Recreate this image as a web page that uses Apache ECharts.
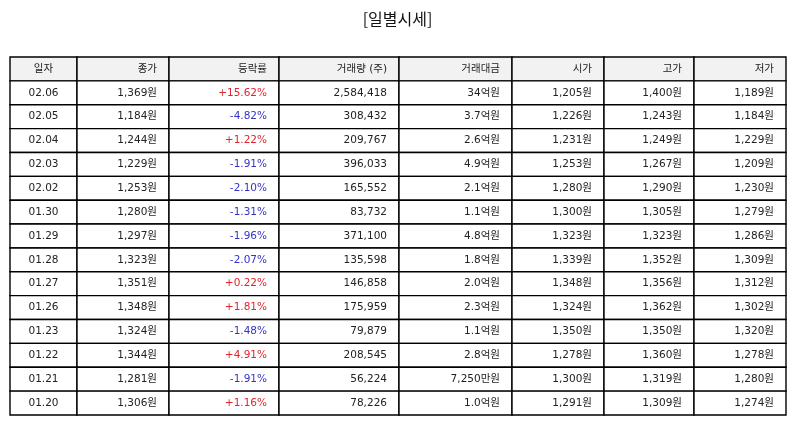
<!DOCTYPE html>
<html>
<head>
<meta charset="utf-8">
<script src="https://cdn.jsdelivr.net/npm/echarts@6/dist/echarts.min.js"></script>
<style>
  html, body { margin: 0; padding: 0; background: #fff; }
  #chart { width: 795px; height: 425px; }
</style>
</head>
<body>
<div id="chart"></div>
<script>
// table data
const headers = ['일자', '종가', '등락률', '거래량 (주)', '거래대금', '시가', '고가', '저가'];
const dates = ['02.06', '02.05', '02.04', '02.03', '02.02', '01.30', '01.29', '01.28', '01.27', '01.26', '01.23', '01.22', '01.21', '01.20'];
const closePrice = [1369, 1184, 1244, 1229, 1253, 1280, 1297, 1323, 1351, 1348, 1324, 1344, 1281, 1306];
const changeRate = [15.62, -4.82, 1.22, -1.91, -2.10, -1.31, -1.96, -2.07, 0.22, 1.81, -1.48, 4.91, -1.91, 1.16];
const volume = [2584418, 308432, 209767, 396033, 165552, 83732, 371100, 135598, 146858, 175959, 79879, 208545, 56224, 78226];
const tradeAmount = ['34억원', '3.7억원', '2.6억원', '4.9억원', '2.1억원', '1.1억원', '4.8억원', '1.8억원', '2.0억원', '2.3억원', '1.1억원', '2.8억원', '7,250만원', '1.0억원'];
const openPrice = [1205, 1226, 1231, 1253, 1280, 1300, 1323, 1339, 1348, 1324, 1350, 1278, 1300, 1291];
const highPrice = [1400, 1243, 1249, 1267, 1290, 1305, 1323, 1352, 1356, 1362, 1350, 1360, 1319, 1309];
const lowPrice = [1189, 1184, 1229, 1209, 1230, 1279, 1286, 1309, 1312, 1302, 1320, 1278, 1280, 1274];

// column boundaries on the x scale
const colEdges = [0, 67, 159, 269, 389, 502, 594, 684, 776];

const fmt = n => n.toLocaleString('en-US');
const won = n => fmt(n) + '원';

function cellText(c, r) {
  if (r === 0) return headers[c];
  const i = r - 1;
  switch (c) {
    case 0: return dates[i];
    case 1: return won(closePrice[i]);
    case 2: return (changeRate[i] > 0 ? '+' : '') + changeRate[i].toFixed(2) + '%';
    case 3: return fmt(volume[i]);
    case 4: return tradeAmount[i];
    case 5: return won(openPrice[i]);
    case 6: return won(highPrice[i]);
    default: return won(lowPrice[i]);
  }
}

function cellColor(c, r) {
  if (r > 0 && c === 2) return changeRate[r - 1] > 0 ? '#e3242b' : '#3434c8';
  return '#222';
}

const rows = ['header'].concat(dates);
const cells = [];
rows.forEach((_, r) => headers.forEach((_, c) => cells.push([c, r])));

const chart = echarts.init(document.getElementById('chart'));
chart.setOption({
  animation: false,
  backgroundColor: '#fff',
  title: {
    text: '[일별시세]',
    left: 'center',
    top: 6,
    textStyle: { fontSize: 16, fontWeight: 'normal', color: '#111', fontFamily: 'Noto Sans CJK KR' }
  },
  grid: { left: 10, right: 9, top: 57, bottom: 10 },
  xAxis: { type: 'value', min: 0, max: 776, show: false },
  yAxis: { type: 'category', data: rows, inverse: true, show: false },
  series: [{
    type: 'custom',
    data: cells,
    renderItem: function (params, api) {
      const c = api.value(0), r = api.value(1);
      const p0 = api.coord([colEdges[c], r]);
      const p1 = api.coord([colEdges[c + 1], r]);
      const h = api.size([0, 1])[1];
      const center = c === 0;
      return {
        type: 'group',
        children: [{
          type: 'rect',
          shape: { x: p0[0], y: p0[1] - h / 2, width: p1[0] - p0[0], height: h },
          style: { fill: r === 0 ? '#f2f2f2' : '#fff', stroke: '#000', lineWidth: 1.4 }
        }, {
          type: 'text',
          style: {
            text: cellText(c, r),
            x: center ? (p0[0] + p1[0]) / 2 : p1[0] - 12,
            y: p0[1],
            align: center ? 'center' : 'right',
            verticalAlign: 'middle',
            fill: cellColor(c, r),
            fontSize: 10.5,
            fontFamily: '"DejaVu Sans", "Noto Sans CJK KR"'
          }
        }]
      };
    }
  }]
});
</script>
</body>
</html>
